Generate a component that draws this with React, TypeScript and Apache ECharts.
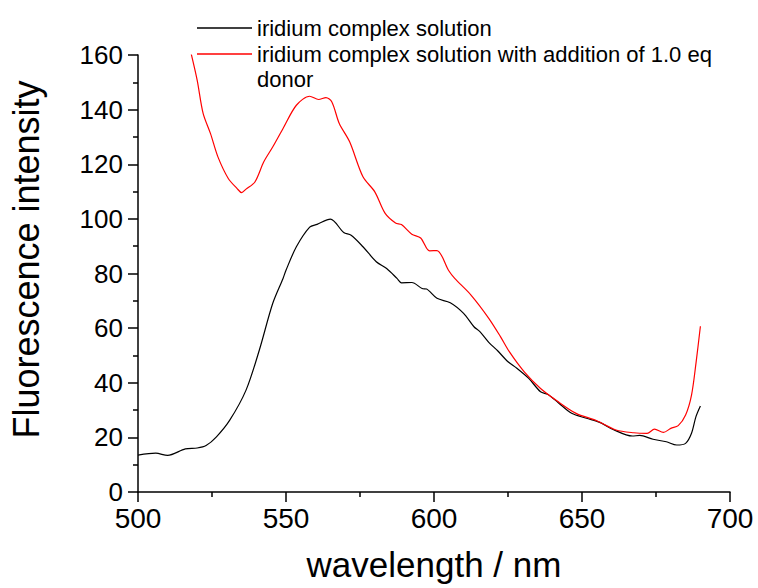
import React, { useEffect, useRef } from "react";
import * as echarts from "echarts";

const blackName = "iridium complex solution";
const redName = "iridium complex solution with addition of 1.0 eq";
const redNameLine2 = "donor";

const xTicks = { min: 500, max: 700, interval: 50 };
const yTicks = { min: 0, max: 160, interval: 20 };

const blackWavelength = [500, 506, 510, 516, 520, 523, 526.5, 531, 536.5, 541, 545.5, 549, 550, 553.5, 558, 560.5, 565, 569.5, 572, 576, 580.5, 584, 587.5, 589, 592.5, 596, 597.5, 601, 605.5, 610, 613.5, 615.5, 618.5, 621.5, 625, 628, 632, 636, 638.5, 642, 646.5, 651.5, 656, 660.5, 667, 669.5, 674, 678.5, 682, 685, 687, 688.5, 690];
const blackIntensity = [13.5, 14.2, 13.4, 15.8, 16.1, 17, 20.2, 26.3, 37.3, 52, 69, 78.2, 81.2, 89.8, 97, 98, 99.9, 95, 94, 89.8, 84.3, 81.8, 78.2, 76.6, 76.7, 74.5, 74.3, 70.9, 69.3, 65.4, 60.5, 58.7, 54.8, 51.7, 47.7, 45.3, 41.6, 36.7, 35.7, 32.7, 28.8, 27, 25.5, 22.9, 20.5, 20.7, 19.3, 18.4, 17.2, 17.8, 21.5, 27.6, 31.5];

const redWavelength = [518, 520, 522, 524.5, 527, 530.5, 533.5, 535, 536.5, 539.5, 542.5, 545.5, 549, 553.5, 558, 561, 563.5, 565.5, 568, 571.5, 576, 580, 583.5, 587, 589, 592.5, 595.5, 598.5, 601, 605, 607, 612.5, 618.5, 622.5, 625.5, 630.5, 636, 641.5, 648, 655, 661.5, 667.5, 672, 674.5, 677.5, 680, 682.5, 685, 687, 688.5, 690];
const redIntensity = [160.3, 150.7, 138.6, 131.2, 122.7, 114.8, 111.1, 109.6, 110.9, 113.5, 120.9, 126.3, 133.1, 141.6, 144.9, 143.7, 144.4, 142.8, 134.9, 128.2, 115.4, 109.9, 102, 98.5, 97.9, 94.4, 93, 88.3, 88.4, 81, 78.2, 72.1, 63.6, 56.8, 51.3, 44, 37.9, 33.4, 28.8, 26.1, 22.7, 21.7, 21.5, 23, 21.8, 23.3, 24.3, 28.2, 35.5, 47.1, 60.7];

const FONT = "Liberation Sans, Arial, sans-serif";

export default function App() {
  const ref = useRef<HTMLDivElement>(null);
  useEffect(() => {
    if (!ref.current) return;
    const chart = echarts.init(ref.current, undefined, { renderer: "svg" });
    const black = blackWavelength.map((x, i) => [x, blackIntensity[i]]);
    const red = redWavelength.map((x, i) => [x, redIntensity[i]]);
    chart.setOption({
      animation: false,
      backgroundColor: "#ffffff",
      grid: { left: 138, right: 28, top: 55, bottom: 96, containLabel: false, outerBoundsMode: "none" },
      legend: {
        orient: "vertical",
        left: 197,
        top: 15,
        padding: 0,
        itemWidth: 55,
        itemHeight: 1.5,
        itemGap: 0,
        icon: "rect",
        textStyle: { fontFamily: FONT, fontSize: 22, color: "#000", lineHeight: 26 },
        data: [
          { name: blackName, itemStyle: { color: "#000" } },
          { name: redName, itemStyle: { color: "#ff0000" } },
        ],
      },
      graphic: [
        {
          type: "text",
          left: 257,
          top: 68,
          style: { text: redNameLine2, fontFamily: FONT, fontSize: 22, fill: "#000" },
        },
      ],
      xAxis: {
        type: "value",
        min: xTicks.min,
        max: xTicks.max,
        interval: xTicks.interval,
        name: "wavelength / nm",
        nameLocation: "middle",
        nameGap: 55,
        nameTextStyle: { fontFamily: FONT, fontSize: 35, color: "#000" },
        axisLine: { show: true, lineStyle: { color: "#000", width: 1.5 } },
        axisTick: { show: true, inside: false, length: 10, lineStyle: { color: "#000", width: 1.5 } },
        minorTick: { show: true, splitNumber: 2, length: 5, lineStyle: { color: "#000", width: 1.5 } },
        axisLabel: { fontFamily: FONT, fontSize: 28, color: "#000", margin: 12 },
        splitLine: { show: false },
      },
      yAxis: {
        type: "value",
        min: yTicks.min,
        max: yTicks.max,
        interval: yTicks.interval,
        name: "Fluorescence intensity",
        nameLocation: "middle",
        nameGap: 94,
        nameTextStyle: { fontFamily: FONT, fontSize: 36, color: "#000", padding: [0, 0, 0, 28] },
        axisLine: { show: true, lineStyle: { color: "#000", width: 1.5 } },
        axisTick: { show: true, inside: false, length: 10, lineStyle: { color: "#000", width: 1.5 } },
        minorTick: { show: true, splitNumber: 2, length: 5, lineStyle: { color: "#000", width: 1.5 } },
        axisLabel: { fontFamily: FONT, fontSize: 26, color: "#000", margin: 15 },
        splitLine: { show: false },
      },
      series: [
        {
          name: blackName,
          type: "line",
          data: black,
          showSymbol: false,
          smooth: 0.3,
          lineStyle: { color: "#000", width: 1.2 },
          itemStyle: { color: "#000" },
        },
        {
          name: redName,
          type: "line",
          data: red,
          showSymbol: false,
          smooth: 0.3,
          lineStyle: { color: "#ff0000", width: 1.2 },
          itemStyle: { color: "#ff0000" },
        },
      ],
    });
    return () => chart.dispose();
  }, []);
  return (
    <div
      ref={ref}
      style={{ position: "fixed", left: 0, top: 0, width: 758, height: 588, background: "#fff" }}
    />
  );
}
